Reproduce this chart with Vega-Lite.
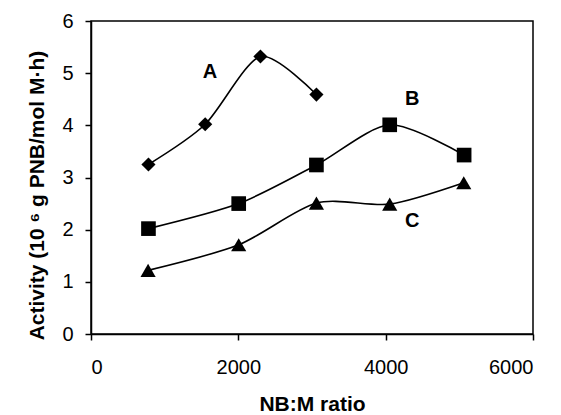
{
  "$schema": "https://vega.github.io/schema/vega-lite/v6.json",
  "width": 442,
  "height": 313,
  "autosize": {"type": "none"},
  "padding": {"left": 91, "top": 21, "right": 28, "bottom": 81},
  "background": "white",
  "config": {
    "font": "Liberation Sans",
    "view": {"stroke": "black", "strokeWidth": 1.5},
    "axis": {
      "grid": false,
      "domainColor": "black",
      "domainWidth": 1.5,
      "tickColor": "black",
      "tickWidth": 1.5,
      "tickSize": 6,
      "labelFont": "Liberation Sans",
      "labelFontSize": 20,
      "labelColor": "black",
      "titleFont": "Liberation Sans",
      "titleFontSize": 21,
      "titleFontWeight": "bold",
      "titleColor": "black"
    }
  },
  "datasets": {
    "pts": [
      {"series": "A", "ratio": 780, "activity": 3.25},
      {"series": "A", "ratio": 1550, "activity": 4.02},
      {"series": "A", "ratio": 2300, "activity": 5.32},
      {"series": "A", "ratio": 3060, "activity": 4.59},
      {"series": "B", "ratio": 780, "activity": 2.02},
      {"series": "B", "ratio": 2005, "activity": 2.5},
      {"series": "B", "ratio": 3060, "activity": 3.24},
      {"series": "B", "ratio": 4055, "activity": 4.01},
      {"series": "B", "ratio": 5065, "activity": 3.43},
      {"series": "C", "ratio": 775, "activity": 1.22},
      {"series": "C", "ratio": 2005, "activity": 1.71},
      {"series": "C", "ratio": 3060, "activity": 2.51},
      {"series": "C", "ratio": 4055, "activity": 2.49},
      {"series": "C", "ratio": 5060, "activity": 2.9}
    ],
    "labels": [
      {"label": "A", "ratio": 1615, "activity": 5.02},
      {"label": "B", "ratio": 4360, "activity": 4.5},
      {"label": "C", "ratio": 4360, "activity": 2.17}
    ]
  },
  "layer": [
    {
      "data": {"name": "pts"},
      "mark": {"type": "line", "interpolate": "cardinal", "tension": 0.2, "color": "black", "strokeWidth": 1.6},
      "encoding": {
        "x": {"field": "ratio", "type": "quantitative", "scale": {"domain": [0, 6000], "nice": false},
              "axis": {"values": [0, 2000, 4000, 6000], "format": "d", "title": "NB:M ratio", "labelPadding": 17, "titlePadding": 16}},
        "y": {"field": "activity", "type": "quantitative", "scale": {"domain": [0, 6], "nice": false},
              "axis": {"values": [0, 1, 2, 3, 4, 5, 6], "title": "Activity (10 ⁶ g PNB/mol M·h)", "labelPadding": 12, "titlePadding": 14, "titleY": 174}},
        "detail": {"field": "series", "type": "nominal"}
      }
    },
    {
      "data": {"name": "pts"},
      "mark": {"type": "point", "filled": true, "color": "black", "opacity": 1},
      "encoding": {
        "x": {"field": "ratio", "type": "quantitative"},
        "y": {"field": "activity", "type": "quantitative"},
        "shape": {"field": "series", "type": "nominal",
                  "scale": {"domain": ["A", "B", "C"], "range": ["diamond", "square", "triangle-up"]}, "legend": null},
        "size": {"field": "series", "type": "nominal",
                 "scale": {"domain": ["A", "B", "C"], "range": [200, 230, 210]}, "legend": null}
      }
    },
    {
      "data": {"name": "labels"},
      "mark": {"type": "text", "font": "Liberation Sans", "fontWeight": "bold", "fontSize": 20, "color": "black"},
      "encoding": {
        "x": {"field": "ratio", "type": "quantitative"},
        "y": {"field": "activity", "type": "quantitative"},
        "text": {"field": "label"}
      }
    }
  ]
}
